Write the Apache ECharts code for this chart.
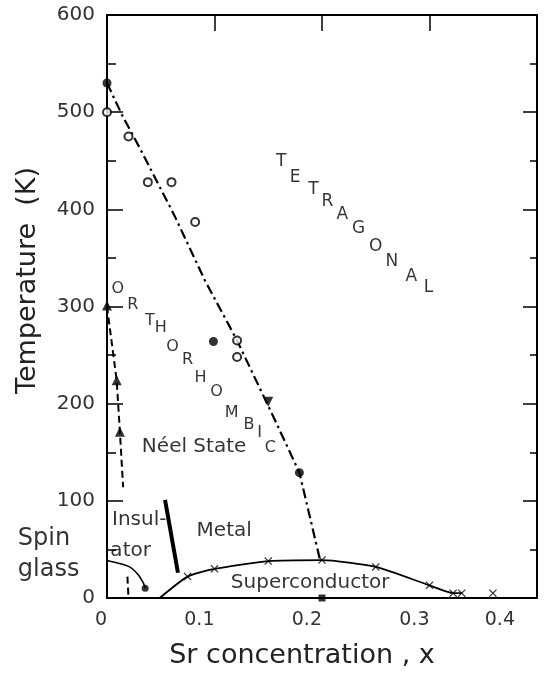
<!DOCTYPE html>
<html>
<head>
<meta charset="utf-8">
<script src="https://cdn.jsdelivr.net/npm/echarts@6/dist/echarts.min.js"></script>
<style>
  html, body { margin: 0; padding: 0; background: #fff; }
  #chart { width: 548px; height: 675px; }
</style>
</head>
<body>
<div id="chart"></div>
<script>
// Phase diagram of La(2-x)Sr(x)CuO4: temperature vs Sr concentration x.

// Axis ticks
const xTickValues = [0, 0.1, 0.2, 0.3, 0.4];
const xTickLabels = ['0', '0.1', '0.2', '0.3', '0.4'];
const yTickValues = [0, 100, 200, 300, 400, 500, 600];
const yTickLabels = ['0', '100', '200', '300', '400', '500', '600'];

// Tetragonal / orthorhombic structural boundary (dash-dot curve)
const structX = [0, 0.014, 0.031, 0.063, 0.091, 0.121, 0.155, 0.179, 0.198];
const structT = [530, 497, 462, 393, 327, 265, 186, 129, 40];

// Measured structural transition points
const structOpenX = [0, 0.02, 0.038, 0.06, 0.082, 0.121, 0.121];
const structOpenT = [500, 475, 428, 428, 387, 265, 248];
const structFilledX = [0, 0.099, 0.179];
const structFilledT = [530, 264, 129];
const structTriX = [0.15];
const structTriT = [202];

// Neel temperature boundary (dashed), with a break behind the "Insul-ator" label
const neelX = [0, 0.009, 0.012, 0.015, null, 0.019, 0.02];
const neelT = [300, 224, 171, 114, null, 22, 0];
const neelPtsX = [0, 0.009, 0.012];
const neelPtsT = [301, 224, 171];

// Spin-glass freezing line
const spinX = [-0.016, 0.006, 0.021, 0.029, 0.034, 0.0355];
const spinT = [42, 37, 32, 24, 15, 10];

// Insulator / metal boundary
const imX = [0.054, 0.066];
const imT = [101, 26];

// Superconducting dome
const domeX = [0.049, 0.075, 0.1, 0.15, 0.2, 0.25, 0.3, 0.322, 0.33];
const domeT = [0, 22, 30, 38, 39, 32, 13, 5, 5];
const tcMarkX = [0.075, 0.1, 0.15, 0.2, 0.25, 0.3, 0.322, 0.33, 0.359];
const tcMarkT = [22, 30, 38, 39, 32, 13, 5, 5, 5];
const tcZeroX = [0.2];
const tcZeroT = [0];

// Phase labels (anchored in data coordinates)
const regionText = ['Néel State', 'Insul-', 'ator', 'Metal', 'Superconductor'];
const regionX = [0.081, 0.030, 0.022, 0.109, 0.189];
const regionT = [156, 80, 49, 69, 15.5];
const spinText = ['Spin', 'glass'];
const spinLabelX = [-0.083, -0.083];
const spinLabelT = [61, 29];

// Letter-by-letter diagonal labels
const tetraLetters = ['T', 'E', 'T', 'R', 'A', 'G', 'O', 'N', 'A', 'L'];
const tetraX = [0.162, 0.175, 0.192, 0.205, 0.219, 0.234, 0.250, 0.265, 0.283, 0.299];
const tetraT = [449, 433, 420, 408, 395, 380, 362, 346, 331, 319];
const orthoLetters = ['O', 'R', 'T', 'H', 'O', 'R', 'H', 'O', 'M', 'B', 'I', 'C'];
const orthoX = [0.010, 0.024, 0.040, 0.050, 0.061, 0.075, 0.087, 0.102, 0.116, 0.132, 0.142, 0.152];
const orthoT = [318, 302, 285, 278, 258, 245, 227, 212, 191, 178, 170, 155];

const pairs = (xs, ys) => xs.map((x, i) => (x === null ? [null, null] : [x, ys[i]]));
const labelled = (xs, ys, txt) => xs.map((x, i) => ({ value: [x, ys[i]], name: txt[i] }));

const FONT = 'DejaVu Sans';
const INK = '#000';

const crossPath = 'path://M0,1L1,0L5,4L9,0L10,1L6,5L10,9L9,10L5,6L1,10L0,9L4,5Z';

function textSeries(data, size, align) {
  return {
    type: 'scatter',
    data: data,
    symbol: 'circle',
    symbolSize: 1,
    itemStyle: { color: 'rgba(0,0,0,0)' },
    clip: false,
    silent: true,
    z: 5,
    label: {
      show: true,
      position: 'inside',
      formatter: p => p.name,
      fontFamily: FONT,
      fontSize: size,
      color: INK,
      align: align || 'center',
      verticalAlign: 'middle'
    }
  };
}

const chart = echarts.init(document.getElementById('chart'), null, { renderer: 'canvas' });

const axisLine = { show: true, onZero: false, lineStyle: { color: '#000', width: 2 } };

chart.setOption({
  animation: false,
  backgroundColor: '#fff',
  grid: { left: 107, right: 11, top: 15, bottom: 77, outerBoundsMode: 'none' },
  xAxis: [
    {
      type: 'value', position: 'bottom', min: 0, max: 0.4, interval: 0.1,
      axisLine: axisLine,
      axisTick: { show: false },
      splitLine: { show: false },
      axisLabel: {
        margin: 13,
        align: 'right',
        formatter: v => {
          const i = xTickValues.findIndex(t => Math.abs(t - v) < 1e-9);
          const s = i >= 0 ? xTickLabels[i] : '';
          return i === xTickValues.length - 1 ? '{edge|' + s + '}' : '{n|' + s + '}';
        },
        rich: {
          n: { fontFamily: FONT, fontSize: 19, color: '#333' },
          edge: { fontFamily: FONT, fontSize: 19, color: '#333', padding: [0, 22, 8, 0] }
        }
      },
      name: 'Sr concentration , x',
      nameLocation: 'middle',
      nameGap: 44,
      nameTextStyle: { fontFamily: FONT, fontSize: 27, color: '#222', padding: [0, 40, 0, 0] }
    },
    {
      type: 'value', position: 'top', min: 0, max: 0.4, interval: 0.1,
      axisLine: axisLine,
      axisTick: { show: true, inside: true, length: 16, lineStyle: { color: '#000', width: 1.5 } },
      axisLabel: { show: false },
      splitLine: { show: false }
    }
  ],
  yAxis: [
    {
      type: 'value', position: 'left', min: 0, max: 600, interval: 100,
      axisLine: axisLine,
      axisTick: { show: true, inside: true, length: 16, lineStyle: { color: '#000', width: 1.5 } },
      minorTick: { show: true, splitNumber: 2, length: 9, lineStyle: { color: '#000', width: 1.5 } },
      splitLine: { show: false },
      axisLabel: {
        margin: 12,
        fontFamily: FONT, fontSize: 20, color: '#333',
        formatter: v => {
          const i = yTickValues.indexOf(v);
          return i >= 0 ? yTickLabels[i] : '';
        }
      },
      name: 'Temperature  (K)',
      nameLocation: 'middle',
      nameGap: 66,
      nameTextStyle: { fontFamily: FONT, fontSize: 27, color: '#222', padding: [0, 0, 0, 52] }
    },
    {
      type: 'value', position: 'right', min: 0, max: 600, interval: 100,
      axisLine: axisLine,
      axisTick: { show: true, inside: true, length: 14, lineStyle: { color: '#000', width: 1.5 } },
      minorTick: { show: true, splitNumber: 2, length: 7, lineStyle: { color: '#000', width: 1.5 } },
      axisLabel: { show: false },
      splitLine: { show: false }
    }
  ],
  series: [
    // structural boundary
    {
      type: 'line', data: pairs(structX, structT), symbol: 'none',
      lineStyle: { color: '#000', width: 2.2, type: [10, 4, 2.5, 4] }, z: 2
    },
    {
      type: 'scatter', data: pairs(structOpenX, structOpenT), symbol: 'emptyCircle', symbolSize: 8,
      itemStyle: { color: '#000', borderWidth: 1.5 }, clip: false, z: 4
    },
    {
      type: 'scatter', data: pairs(structFilledX, structFilledT), symbol: 'circle', symbolSize: 9,
      itemStyle: { color: '#000' }, clip: false, z: 4
    },
    {
      type: 'scatter', data: pairs(structTriX, structTriT), symbol: 'triangle', symbolSize: 10, symbolRotate: 180,
      itemStyle: { color: '#000' }, z: 4
    },
    // Neel line
    {
      type: 'line', data: pairs(neelX, neelT), symbol: 'none', connectNulls: false,
      lineStyle: { color: '#000', width: 2, type: [7, 4] }, z: 2
    },
    {
      type: 'scatter', data: pairs(neelPtsX, neelPtsT), symbol: 'triangle', symbolSize: 10,
      itemStyle: { color: '#000' }, clip: false, z: 4
    },
    // spin glass
    {
      type: 'line', data: pairs(spinX, spinT), symbol: 'none', clip: false, smooth: 0.3,
      lineStyle: { color: '#000', width: 1.6 }, z: 2
    },
    {
      type: 'scatter', data: [[spinX[spinX.length - 1], spinT[spinT.length - 1]]], symbol: 'circle', symbolSize: 7,
      itemStyle: { color: '#000' }, z: 4
    },
    // insulator-metal boundary
    {
      type: 'line', data: pairs(imX, imT), symbol: 'none',
      lineStyle: { color: '#000', width: 4 }, z: 2
    },
    // superconducting dome
    {
      type: 'line', data: pairs(domeX, domeT), symbol: 'none', smooth: 0.2, clip: false,
      lineStyle: { color: '#000', width: 1.8 }, z: 2
    },
    {
      type: 'scatter', data: pairs(tcMarkX, tcMarkT), symbol: crossPath, symbolSize: 8,
      itemStyle: { color: '#000' }, clip: false, z: 4
    },
    {
      type: 'scatter', data: pairs(tcZeroX, tcZeroT), symbol: 'rect', symbolSize: 7,
      itemStyle: { color: '#000' }, clip: false, z: 4
    },
    // labels
    textSeries(labelled(regionX, regionT, regionText), 20),
    textSeries(labelled(spinLabelX, spinLabelT, spinText), 24, 'left'),
    textSeries(labelled(tetraX, tetraT, tetraLetters), 17),
    textSeries(labelled(orthoX, orthoT, orthoLetters), 16)
  ]
});
</script>
</body>
</html>
